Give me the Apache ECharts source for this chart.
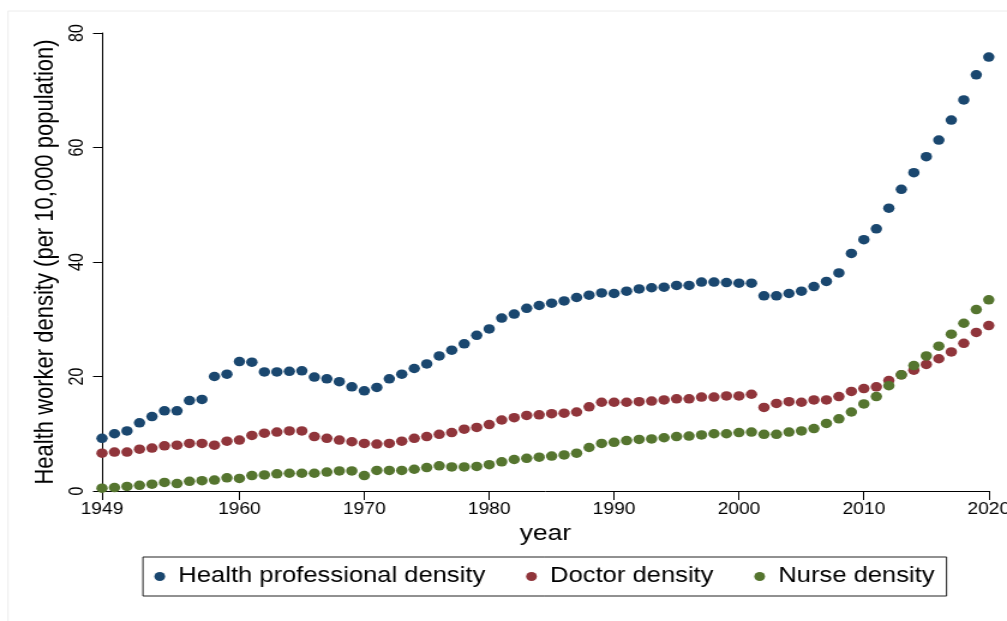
<!DOCTYPE html>
<html>
<head>
<meta charset="utf-8">
<script src="https://cdn.jsdelivr.net/npm/echarts@6/dist/echarts.min.js"></script>
<style>
html,body{margin:0;padding:0;background:#fff;overflow:hidden;width:1007px;height:621px;}
#wrap{position:absolute;left:0;top:0;width:839px;height:621px;transform:scaleX(1.20024);transform-origin:0 0;}
</style>
</head>
<body>
<div id="wrap"></div>
<script>
var years = [1949,1950,1951,1952,1953,1954,1955,1956,1957,1958,
             1959,1960,1961,1962,1963,1964,1965,1966,1967,1968,
             1969,1970,1971,1972,1973,1974,1975,1976,1977,1978,
             1979,1980,1981,1982,1983,1984,1985,1986,1987,1988,
             1989,1990,1991,1992,1993,1994,1995,1996,1997,1998,
             1999,2000,2001,2002,2003,2004,2005,2006,2007,2008,
             2009,2010,2011,2012,2013,2014,2015,2016,2017,2018,
             2019,2020];
var healthProfessional = [9.2,10.0,10.5,11.9,13.0,14.0,14.0,15.8,16.0,20.0,
             20.4,22.6,22.5,20.8,20.8,20.9,21.0,19.9,19.6,19.1,
             18.2,17.5,18.1,19.6,20.4,21.4,22.2,23.6,24.6,25.7,
             27.2,28.3,30.2,30.9,31.9,32.4,32.8,33.2,33.8,34.2,
             34.6,34.5,34.9,35.3,35.5,35.6,35.9,35.9,36.5,36.5,
             36.4,36.3,36.3,34.1,34.1,34.5,34.9,35.7,36.6,38.1,
             41.5,43.9,45.8,49.4,52.7,55.6,58.4,61.3,64.8,68.3,
             72.7,75.8];
var doctor = [6.6,6.8,6.8,7.3,7.5,7.9,8.0,8.3,8.3,8.0,
             8.7,8.9,9.7,10.1,10.3,10.5,10.5,9.5,9.2,8.9,
             8.6,8.3,8.2,8.3,8.7,9.2,9.5,9.9,10.2,10.8,
             11.1,11.6,12.4,12.8,13.2,13.3,13.5,13.6,13.8,14.7,
             15.5,15.5,15.5,15.6,15.7,15.9,16.1,16.1,16.4,16.4,
             16.6,16.6,16.9,14.6,15.3,15.6,15.5,15.9,15.9,16.5,
             17.4,17.9,18.2,19.3,20.3,21.1,22.1,23.1,24.3,25.8,
             27.7,28.9];
var nurse = [0.5,0.6,0.8,1.0,1.2,1.5,1.3,1.7,1.8,1.9,
             2.3,2.2,2.7,2.8,3.0,3.1,3.1,3.1,3.3,3.5,
             3.5,2.7,3.6,3.6,3.6,3.8,4.1,4.4,4.2,4.2,
             4.3,4.6,5.1,5.5,5.7,5.9,6.1,6.3,6.6,7.6,
             8.3,8.5,8.8,9.0,9.1,9.3,9.5,9.6,9.8,10.0,
             10.0,10.2,10.3,9.9,9.9,10.3,10.5,10.9,11.8,12.6,
             13.8,15.2,16.5,18.4,20.3,21.9,23.6,25.3,27.4,29.3,
             31.7,33.4];
var seriesNames = ['Health professional density','Doctor density','Nurse density'];
var xTickLabels = [1949,1960,1970,1980,1990,2000,2010,2020];
var yTickLabels = [0,20,40,60,80];
var xTitle = 'year';
var yTitle = 'Health worker density (per 10,000 population)';

function pairs(vals){ return years.map(function(y,i){ return [y, vals[i]]; }); }

var FONT = "'Liberation Sans', Arial, sans-serif";
var colors = ['#1a476f','#90353b','#55752f'];
var chart = echarts.init(document.getElementById('wrap'), null, {renderer:'canvas'});
chart.setOption({
  animation:false,
  backgroundColor:'#fff',
  color: colors,
  textStyle:{fontFamily:FONT, color:'#000'},
  graphic:[{type:'rect', shape:{x:6.7,y:11,width:900,height:700}, style:{fill:'none', stroke:'#ececec', lineWidth:1}, silent:true, z:-10}],
  grid:{left:85, top:33, width:738.8, height:458, containLabel:false, outerBoundsMode:'none'},
  legend:{
    left:119.1, top:557,
    orient:'horizontal',
    padding:[9,10,9,9.5],
    itemGap:34,
    itemWidth:9, itemHeight:9,
    icon:'circle',
    borderColor:'#222', borderWidth:1,
    textStyle:{fontSize:21.3, color:'#000', fontFamily:FONT, padding:[0,0,0,6]},
    data:seriesNames
  },
  xAxis:{
    type:'value', min:years[0], max:years[years.length-1],
    name:xTitle, nameLocation:'middle', nameGap:31,
    nameTextStyle:{fontSize:22, color:'#000', fontFamily:FONT},
    axisLine:{show:true, onZero:false, lineStyle:{color:'#000', width:1}},
    axisTick:{show:true, length:9, customValues:xTickLabels, lineStyle:{color:'#000'}},
    axisLabel:{customValues:xTickLabels, fontSize:16, color:'#000', margin:11, fontFamily:FONT,
      formatter:function(v){return String(v);}},
    splitLine:{show:false}
  },
  yAxis:{
    type:'value', min:yTickLabels[0], max:yTickLabels[yTickLabels.length-1], interval:20,
    name:yTitle, nameLocation:'middle', nameGap:28, nameRotate:90,
    nameTextStyle:{fontSize:22, color:'#000', fontFamily:FONT},
    axisLine:{show:true, lineStyle:{color:'#000', width:1}},
    axisTick:{show:true, length:7.5, lineStyle:{color:'#000'}},
    axisLabel:{rotate:90, fontSize:16, color:'#000', margin:12, fontFamily:FONT},
    splitLine:{show:false}
  },
  series:[
    {name:seriesNames[0], type:'scatter', data:pairs(healthProfessional), symbol:'circle', symbolSize:9.5, itemStyle:{color:colors[0], opacity:1}},
    {name:seriesNames[1], type:'scatter', data:pairs(doctor), symbol:'circle', symbolSize:9.5, itemStyle:{color:colors[1], opacity:1}},
    {name:seriesNames[2], type:'scatter', data:pairs(nurse), symbol:'circle', symbolSize:9.5, itemStyle:{color:colors[2], opacity:1}}
  ]
});
</script>
</body>
</html>
